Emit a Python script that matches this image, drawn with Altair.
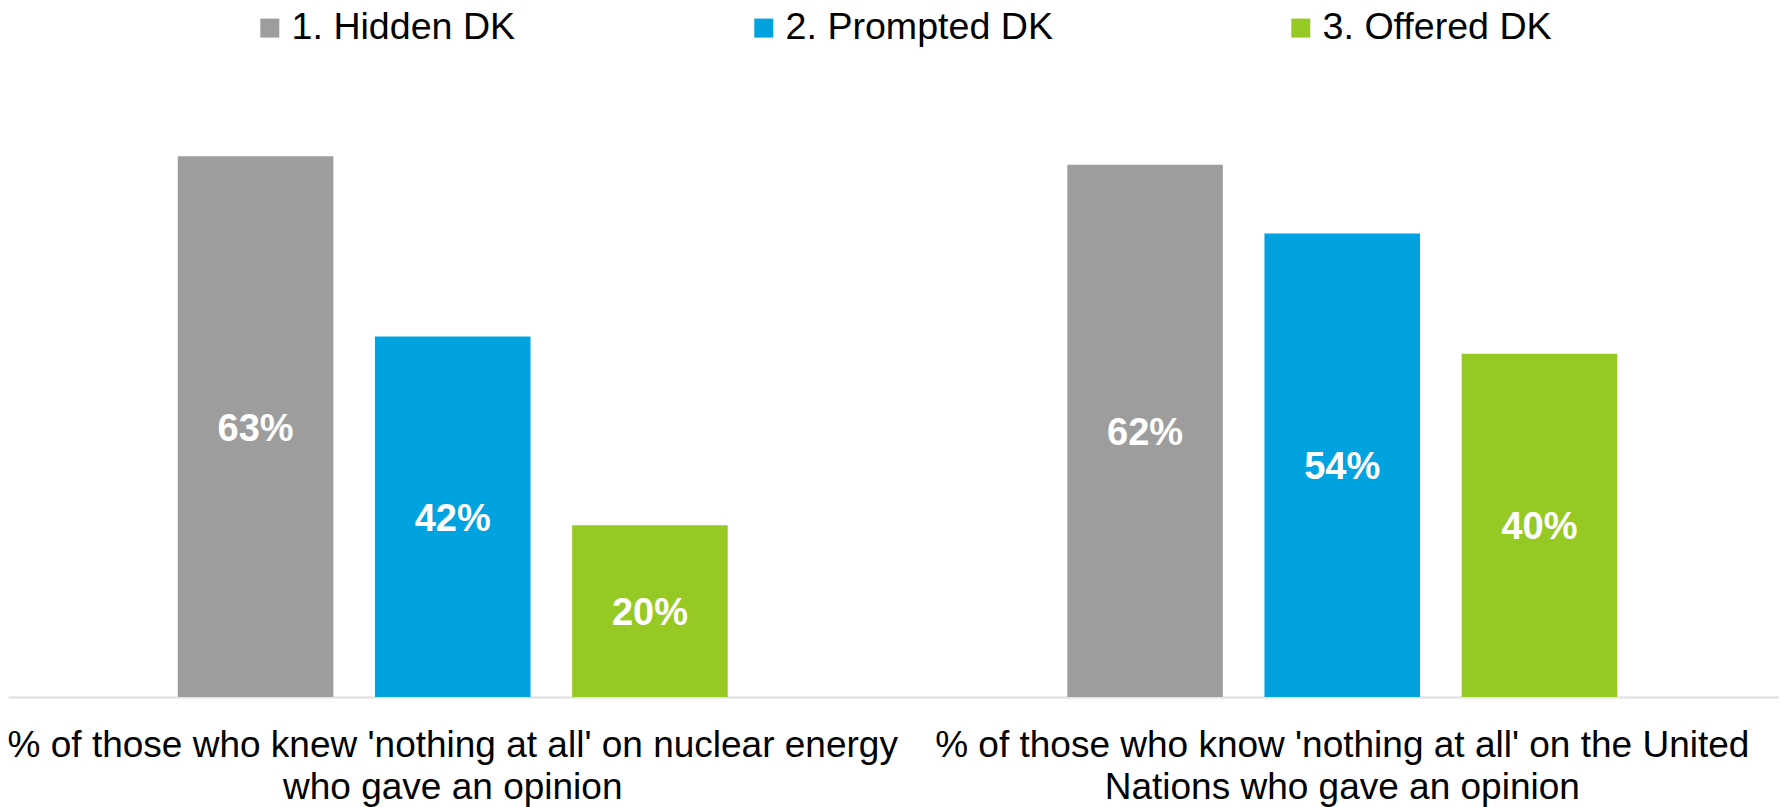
import altair as alt
import pandas as pd

categories = [
    "% of those who knew 'nothing at all' on nuclear energy|who gave an opinion",
    "% of those who know 'nothing at all' on the United|Nations who gave an opinion",
]
series = ["1. Hidden DK", "2. Prompted DK", "3. Offered DK"]
values_nuclear = [63, 42, 20]
values_un = [62, 54, 40]
colors = ["#9D9D9D", "#00A2E0", "#97C924"]

rows = []
for cat, vals in zip(categories, [values_nuclear, values_un]):
    for s, v in zip(series, vals):
        rows.append({"category": cat, "series": s, "value": v, "label": f"{v}%"})
df = pd.DataFrame(rows)

FONT = "Liberation Sans"
ydom = [0, 79.8]

base = alt.Chart(df).encode(
    x=alt.X(
        "category:N",
        sort=categories,
        scale=alt.Scale(paddingInner=0, paddingOuter=0, range=[0, 1779]),
        axis=alt.Axis(
            title=None,
            labelAngle=0,
            labelExpr="split(datum.label, '|')",
            labelFontSize=37,
            labelFont=FONT,
            labelColor="#000000",
            labelPadding=30,
            labelLineHeight=42,
            labelLimit=2000,
            labelOverlap=False,
            labelBaseline="top",
            ticks=False,
            grid=False,
            domainColor="#E4E4E4",
            domainWidth=2.5,
        ),
    ),
    xOffset=alt.XOffset(
        "series:N", sort=series, scale=alt.Scale(paddingInner=0.211, paddingOuter=0.861)
    ),
)

bars = base.mark_bar().encode(
    y=alt.Y("value:Q", scale=alt.Scale(domain=ydom), axis=None),
    color=alt.Color(
        "series:N",
        sort=series,
        scale=alt.Scale(domain=series, range=colors),
        legend=alt.Legend(
            title=None,
            orient="none",
            legendX=243,
            legendY=-3,
            direction="horizontal",
            symbolType="square",
            symbolSize=361,
            symbolStrokeWidth=0,
            labelFontSize=37.6,
            labelFont=FONT,
            labelColor="#000000",
            labelOffset=3,
            columnPadding=229,
            padding=0,
            labelLimit=1000,
        ),
    ),
)

labels = base.mark_text(
    color="white", fontWeight="bold", fontSize=38, font=FONT, baseline="middle", dy=3
).transform_calculate(mid="datum.value / 2").encode(
    y=alt.Y("mid:Q", scale=alt.Scale(domain=ydom), axis=None),
    text="label:N",
)

chart = (
    alt.layer(bars, labels)
    .properties(
        width=1771,
        height=685,
        autosize=alt.AutoSizeParams(type="none"),
        padding={"top": 4, "left": 0, "right": 0, "bottom": 118},
    )
    .configure_view(stroke=None)
)

chart.save("out.html", embed_options={"renderer": "svg", "actions": False})
